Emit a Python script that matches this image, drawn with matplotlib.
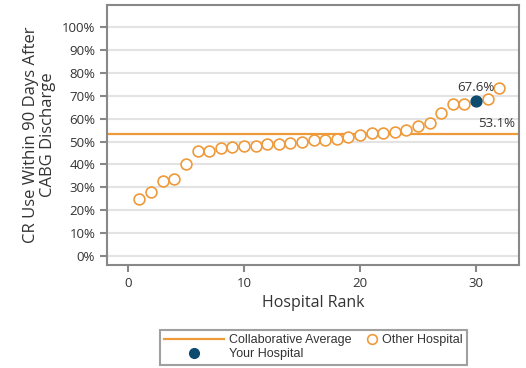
import matplotlib.pyplot as plt
from matplotlib.lines import Line2D
from matplotlib.legend_handler import HandlerLine2DCompound

plt.rcParams['font.family'] = ['Open Sans', 'DejaVu Sans']

# hospital ranks and rates (%)
ranks = list(range(1, 33))
rates = [24.9, 27.9, 32.9, 33.5, 40.3, 45.7, 45.7, 47.0, 47.7, 48.2,
         48.2, 48.8, 48.8, 49.5, 49.9, 50.7, 50.7, 51.2, 52.0, 52.7,
         53.7, 53.7, 54.3, 55.2, 56.9, 58.1, 62.3, 66.5, 66.5, 67.6,
         68.6, 73.2]
your_rank = 30
collab_avg = 53.1

orange = '#EF9A3A'
navy = '#0C4A6E'
grey = '#888888'
text_col = '#333333'


# puts the legend marker at the right end of the handle box
class RightMarker(HandlerLine2DCompound):
    def get_xdata(self, legend, xdescent, ydescent, width, height, fontsize):
        xdata, _ = super().get_xdata(legend, xdescent, ydescent, width, height, fontsize)
        return xdata, [-xdescent + width - 0.4 * fontsize]


fig = plt.figure(figsize=(5.26, 3.68), dpi=100)
ax = fig.add_axes([107 / 526, 1 - 265 / 368, 412 / 526, 260 / 368])

other_x = [r for r in ranks if r != your_rank]
other_y = [v for r, v in zip(ranks, rates) if r != your_rank]
your_y = rates[ranks.index(your_rank)]

ax.axhline(collab_avg, color=orange, lw=1.6, zorder=2)
ax.plot(other_x, other_y, 'o', ms=7.8, mfc='white', mec=orange, mew=1.2, zorder=3)
ax.plot([your_rank], [your_y], 'o', ms=7.8, mfc=navy, mec=navy, zorder=4)

ax.annotate(f'{your_y:.1f}%', (your_rank, your_y), xytext=(0, 5),
            textcoords='offset points', ha='center', va='bottom',
            fontsize=9.5, color=text_col, zorder=5)
ax.annotate(f'{collab_avg:.1f}%', (31.8, collab_avg), xytext=(0, 3),
            textcoords='offset points', ha='center', va='bottom',
            fontsize=9.5, color=text_col)

ax.set_xlim(-1.8, 33.7)
ax.set_ylim(-3.9, 109.6)
ax.set_xticks([0, 10, 20, 30])
ax.set_yticks(range(0, 101, 10))
ax.set_yticklabels([f'{v}%' for v in range(0, 101, 10)])
ax.yaxis.grid(True, color='#E3E3E3', lw=1.5)
ax.set_axisbelow(True)

for s in ax.spines.values():
    s.set_color(grey)
    s.set_linewidth(1.5)
ax.tick_params(colors=grey, labelcolor=text_col, labelsize=9.5, width=1.5, length=5)

ax.set_xlabel('Hospital Rank', fontsize=11.5, color=text_col)
ax.set_ylabel('CR Use Within 90 Days After\nCABG Discharge', fontsize=12,
              color=text_col, linespacing=1.1)

line_h = Line2D([], [], color=orange, lw=1.6)
your_h = Line2D([], [], marker='o', ls='', ms=7, mfc=navy, mec=navy)
other_h = Line2D([], [], marker='o', ls='', ms=7, mfc='white', mec=orange, mew=1.2)
handles = [line_h, your_h, other_h]
labels = ['Collaborative Average', 'Your Hospital', 'Other Hospital']
leg = fig.legend(handles, labels, loc='upper left', ncol=2,
                 bbox_to_anchor=(160 / 526, 1 - 330 / 368), frameon=True,
                 fancybox=False, edgecolor=grey,
                 prop={'family': ['Liberation Sans', 'DejaVu Sans'], 'size': 9},
                 handlelength=4.8, columnspacing=-2.8, handletextpad=0.4,
                 borderpad=0.35, labelspacing=0.15, borderaxespad=0,
                 handler_map={other_h: RightMarker()})
leg.get_frame().set_linewidth(1.5)
for t in leg.get_texts():
    t.set_color(text_col)

fig.savefig('out.png', dpi=100)
